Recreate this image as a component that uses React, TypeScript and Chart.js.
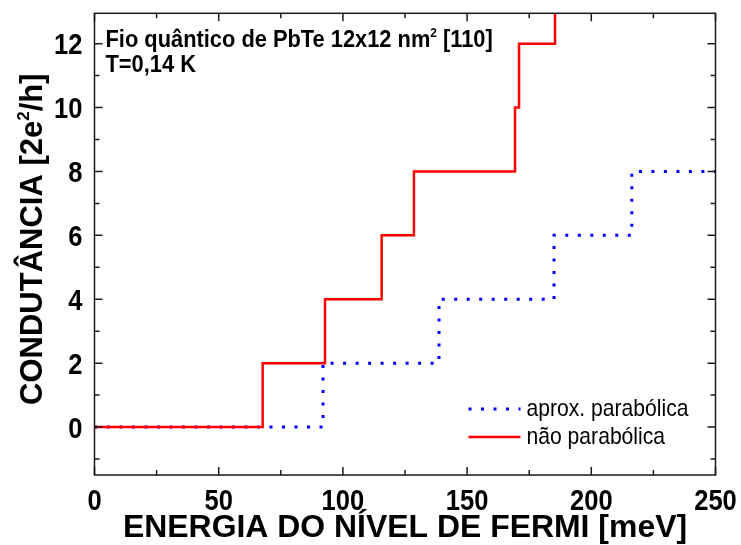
import { useEffect, useRef } from "react";
import { Chart, registerables } from "chart.js";

Chart.register(...registerables);

// Conductance steps: energy (meV) where each plateau begins, and plateau value (2e²/h)
const parabolicaE = [0, 92.0, 138.7, 185.0, 216.3, 250];
const parabolicaG = [0, 2, 4, 6, 8, 8];
const naoParabolicaE = [0, 67.7, 92.8, 115.6, 128.6, 169.3, 170.9, 185.4];
const naoParabolicaG = [0, 2, 4, 6, 8, 10, 12, 14];

const xTickValues = [0, 50, 100, 150, 200, 250];
const xMinorValues = [25, 75, 125, 175, 225];
const yTickValues = [0, 2, 4, 6, 8, 10, 12];
const yMinorValues = [-1, 1, 3, 5, 7, 9, 11];

const xTitle = "ENERGIA DO NÍVEL DE FERMI [meV]";
const yTitleParts = [
  { text: "CONDUTÂNCIA [2e" },
  { text: "2", sup: true },
  { text: "/h]" },
];
const headerParts = [
  { text: "Fio quântico de PbTe 12x12 nm" },
  { text: "2", sup: true },
  { text: " [110]" },
];
const tempLabel = "T=0,14 K";
const seriesLabels = ["aprox. parabólica", "não parabólica"];

const FONT = "'Liberation Sans', Arial, sans-serif";
const BLUE = "#0000ff";
const RED = "#ff0000";

type Part = { text: string; sup?: boolean };

function partFont(size: number, weight: string, sup?: boolean) {
  return `${weight} ${sup ? Math.round(size * 0.55) : size}px ${FONT}`;
}

// Draws a run of text with optional superscripts; sx squeezes the glyphs horizontally.
function drawRich(
  ctx: CanvasRenderingContext2D,
  parts: Part[],
  x: number,
  y: number,
  size: number,
  weight: string,
  sx: number,
  align: "left" | "center" | "right"
) {
  ctx.save();
  ctx.textBaseline = "alphabetic";
  ctx.textAlign = "left";
  let total = 0;
  const widths = parts.map((p) => {
    ctx.font = partFont(size, weight, p.sup);
    const w = ctx.measureText(p.text).width;
    total += w;
    return w;
  });
  ctx.translate(x, y);
  ctx.scale(sx, 1);
  let cx = align === "left" ? 0 : align === "center" ? -total / 2 : -total;
  parts.forEach((p, i) => {
    ctx.font = partFont(size, weight, p.sup);
    ctx.fillText(p.text, cx, p.sup ? -size * 0.42 : 0);
    cx += widths[i];
  });
  ctx.restore();
}

const decorations = {
  id: "decorations",
  afterDatasetsDraw(chart: any) {
    const { ctx, chartArea: a, scales } = chart;
    const xs = scales.x;
    const ys = scales.y;
    ctx.save();
    ctx.fillStyle = "#000";
    ctx.strokeStyle = "#1a1a1a";
    ctx.lineWidth = 1.5;
    ctx.strokeRect(a.left, a.top, a.right - a.left, a.bottom - a.top);

    // inward ticks on all four sides
    ctx.beginPath();
    const xTick = (v: number, len: number) => {
      const px = xs.getPixelForValue(v);
      ctx.moveTo(px, a.bottom);
      ctx.lineTo(px, a.bottom - len);
      ctx.moveTo(px, a.top);
      ctx.lineTo(px, a.top + len);
    };
    const yTick = (v: number, len: number) => {
      const py = ys.getPixelForValue(v);
      ctx.moveTo(a.left, py);
      ctx.lineTo(a.left + len, py);
      ctx.moveTo(a.right, py);
      ctx.lineTo(a.right - len, py);
    };
    xTickValues.forEach((v) => xTick(v, 8));
    xMinorValues.forEach((v) => xTick(v, 5));
    yTickValues.forEach((v) => yTick(v, 8));
    yMinorValues.forEach((v) => yTick(v, 5));
    ctx.stroke();

    // tick labels
    xTickValues.forEach((v) => {
      drawRich(ctx, [{ text: String(v) }], xs.getPixelForValue(v), a.bottom + 35, 29, "bold", 0.88, "center");
    });
    yTickValues.forEach((v) => {
      drawRich(ctx, [{ text: String(v) }], a.left - 12, ys.getPixelForValue(v) + 10.5, 29, "bold", 0.88, "right");
    });

    // axis titles
    drawRich(ctx, [{ text: xTitle }], (a.left + a.right) / 2, 537, 31, "bold", 1.03, "center");
    ctx.save();
    ctx.translate(42, (a.top + a.bottom) / 2 - 5);
    ctx.rotate(-Math.PI / 2);
    drawRich(ctx, yTitleParts, 0, 0, 31, "bold", 1, "center");
    ctx.restore();

    // header annotation
    drawRich(ctx, headerParts, a.left + 11, 47, 24, "bold", 0.91, "left");
    drawRich(ctx, [{ text: tempLabel }], a.left + 11, 72, 24, "bold", 0.91, "left");

    // legend
    const lx0 = a.left + 374;
    const lx1 = a.left + 426;
    ctx.lineWidth = 3;
    ctx.strokeStyle = BLUE;
    ctx.setLineDash([3, 9.5]);
    ctx.beginPath();
    ctx.moveTo(lx0, 409);
    ctx.lineTo(lx1, 409);
    ctx.stroke();
    ctx.setLineDash([]);
    ctx.lineWidth = 2.5;
    ctx.strokeStyle = RED;
    ctx.beginPath();
    ctx.moveTo(lx0, 437);
    ctx.lineTo(lx1, 437);
    ctx.stroke();
    ctx.fillStyle = "#000";
    drawRich(ctx, [{ text: seriesLabels[0] }], lx1 + 6, 416, 24, "normal", 0.88, "left");
    drawRich(ctx, [{ text: seriesLabels[1] }], lx1 + 6, 444, 24, "normal", 0.88, "left");
    ctx.restore();
  },
};

export default function App() {
  const canvasRef = useRef<HTMLCanvasElement | null>(null);

  useEffect(() => {
    const canvas = canvasRef.current;
    if (!canvas) return;
    const toPoints = (xs: number[], ys: number[]) => xs.map((x, i) => ({ x, y: ys[i] }));
    const chart = new Chart(canvas, {
      type: "line",
      data: {
        datasets: [
          {
            label: seriesLabels[1],
            data: toPoints(naoParabolicaE, naoParabolicaG),
            borderColor: RED,
            borderWidth: 2.5,
            stepped: true,
            pointRadius: 0,
            fill: false,
          },
          {
            label: seriesLabels[0],
            data: toPoints(parabolicaE, parabolicaG),
            borderColor: BLUE,
            borderWidth: 3,
            borderDash: [3, 9.5],
            stepped: true,
            pointRadius: 0,
            fill: false,
          },
        ],
      },
      options: {
        responsive: false,
        animation: false,
        devicePixelRatio: 1,
        layout: { padding: { left: 94.5, right: 25.5, top: 13.3, bottom: 70 } },
        scales: {
          x: { type: "linear", min: 0, max: 250, display: false },
          y: { type: "linear", min: -1.5, max: 12.95, display: false },
        },
        plugins: {
          legend: { display: false },
          tooltip: { enabled: false },
        },
      },
      plugins: [decorations],
    });
    return () => chart.destroy();
  }, []);

  return (
    <div style={{ position: "fixed", left: 0, top: 0, width: 741, height: 545, background: "#fff" }}>
      <canvas ref={canvasRef} width={741} height={545} />
    </div>
  );
}
